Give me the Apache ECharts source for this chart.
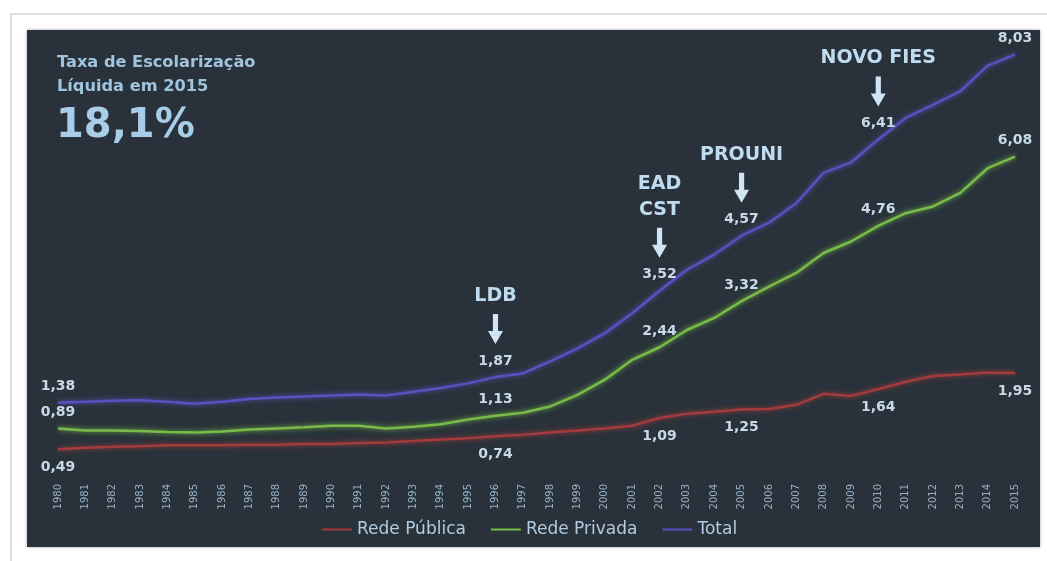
<!DOCTYPE html>
<html lang="pt-BR">
<head>
<meta charset="utf-8">
<title>Taxa de Escolarização Líquida</title>
<script src="https://cdn.jsdelivr.net/npm/echarts@6/dist/echarts.min.js"></script>
<style>
  html, body { margin: 0; padding: 0; background: #ffffff; }
  #page { position: relative; width: 1047px; height: 561px; overflow: hidden; }
  #frameTop { position: absolute; left: 10px; top: 13px; width: 1037px; height: 2px; background: #e2e2e2; }
  #frameLeft { position: absolute; left: 10px; top: 13px; width: 2px; height: 548px; background: #dedede; }
  #panel { position: absolute; left: 27px; top: 30px; width: 1013px; height: 517px; background: #29323a;
           box-shadow: 0 0 3px rgba(0,0,0,0.35); }
  #chart { position: absolute; left: 0; top: 0; width: 1047px; height: 561px; }
</style>
</head>
<body>
<div id="page">
  <div id="frameTop"></div>
  <div id="frameLeft"></div>
  <div id="panel"></div>
  <div id="chart"></div>
</div>
<script>
// Anos (eixo X)
const years = ['1980','1981','1982','1983','1984','1985','1986','1987','1988','1989',
  '1990','1991','1992','1993','1994','1995','1996','1997','1998','1999',
  '2000','2001','2002','2003','2004','2005','2006','2007','2008','2009',
  '2010','2011','2012','2013','2014','2015'];

// Matrículas (milhões)
const redePublica = [0.49,0.52,0.54,0.55,0.57,0.57,0.57,0.58,0.58,0.59,
  0.59,0.61,0.62,0.65,0.68,0.70,0.74,0.77,0.81,0.85,
  0.89,0.94,1.09,1.17,1.21,1.25,1.26,1.34,1.55,1.51,
  1.64,1.78,1.89,1.92,1.96,1.95];

const redePrivada = [0.89,0.85,0.85,0.84,0.82,0.81,0.83,0.87,0.89,0.91,
  0.94,0.94,0.89,0.92,0.97,1.06,1.13,1.19,1.31,1.53,
  1.82,2.20,2.44,2.77,3.00,3.32,3.60,3.86,4.24,4.46,
  4.76,5.00,5.13,5.39,5.86,6.08];

const total = [1.38,1.40,1.42,1.43,1.40,1.36,1.40,1.45,1.48,1.50,
  1.52,1.54,1.52,1.59,1.66,1.75,1.87,1.94,2.17,2.42,
  2.71,3.09,3.52,3.92,4.21,4.57,4.82,5.19,5.77,5.97,
  6.41,6.82,7.07,7.33,7.82,8.03];

// Anos com valor rotulado
const labeledYears = ['1980','1996','2002','2005','2010','2015'];

// Marcos da política educacional
const events = [
  { year: '1996', text: 'LDB' },
  { year: '2002', text: 'EAD\nCST' },
  { year: '2005', text: 'PROUNI' },
  { year: '2010', text: 'NOVO FIES' }
];

const FONT = 'DejaVu Sans';
const fmt = v => v.toFixed(2).replace('.', ',');

function withLabels(values) {
  return values.map((v, i) =>
    labeledYears.indexOf(years[i]) >= 0 ? { value: v, label: { show: true } } : v);
}

function lineSeries(name, values, color, labelPos, labelDist) {
  return {
    name: name,
    type: 'line',
    data: withLabels(values),
    symbol: 'circle',
    symbolSize: 0.1,
    showAllSymbol: true,
    smooth: false,
    color: color,
    lineStyle: { width: 2.5, color: color, shadowBlur: 5, shadowColor: color },
    itemStyle: { color: color },
    label: {
      show: false,
      position: labelPos,
      distance: labelDist,
      formatter: p => fmt(p.value),
      color: '#c8d9e7',
      fontFamily: FONT,
      fontWeight: 'bold',
      fontSize: 14
    },
    emphasis: { disabled: true },
    animation: false
  };
}

const chart = echarts.init(document.getElementById('chart'), null, { renderer: 'canvas' });

chart.setOption({
  backgroundColor: 'transparent',
  animation: false,
  title: [
    {
      text: 'Taxa de Escolarização\nLíquida em 2015',
      left: 57, top: 51, padding: 0,
      textStyle: { fontFamily: FONT, fontWeight: 'bold', fontSize: 16.2, lineHeight: 24, color: '#9fc4de' }
    },
    {
      text: '18,1%',
      left: 56, top: 106, padding: 0,
      textStyle: { fontFamily: FONT, fontWeight: 'bold', fontSize: 40, lineHeight: 42, color: '#a8cde8' }
    }
  ],
  legend: {
    data: ['Rede Pública', 'Rede Privada', 'Total'],
    left: 322, top: 521, padding: 0,
    icon: 'rect', itemWidth: 30, itemHeight: 2, itemGap: 25,
    textStyle: { fontFamily: FONT, fontSize: 17, color: '#b3cbe0' }
  },
  grid: { left: 58, right: 32, top: 30, bottom: 86 },
  xAxis: {
    type: 'category',
    data: years,
    boundaryGap: false,
    axisLine: { show: false },
    axisTick: { show: false },
    splitLine: { show: false },
    axisLabel: { interval: 0, rotate: 90, margin: 9, fontFamily: FONT, fontSize: 10, color: '#95b0c7' }
  },
  yAxis: {
    type: 'value', min: 0, max: 8.5, show: false,
    splitLine: { show: false }
  },
  series: [
    lineSeries('Rede Pública', redePublica, '#a23b3d', 'bottom', 11),
    lineSeries('Rede Privada', redePrivada, '#78bb48', 'top', 9),
    lineSeries('Total', total, '#5c50c0', 'top', 9)
  ]
});

// Setas e nomes dos marcos, posicionados sobre a série Total
const arrowTop = -63, arrowTip = -33, head = 13;
const graphics = [];
events.forEach(ev => {
  const i = years.indexOf(ev.year);
  const p = chart.convertToPixel({ xAxisIndex: 0, yAxisIndex: 0 }, [i, total[i]]);
  graphics.push({
    type: 'polygon', x: p[0], y: p[1], silent: true,
    shape: { points: [[-2.6, arrowTop], [2.6, arrowTop], [2.6, arrowTip - head], [7.5, arrowTip - head],
                      [0, arrowTip], [-7.5, arrowTip - head], [-2.6, arrowTip - head]] },
    style: { fill: '#cfe5f6' }
  });
  graphics.push({
    type: 'text', x: p[0], y: p[1] - 68, silent: true,
    style: {
      text: ev.text, fill: '#bfdbef',
      fontFamily: FONT, fontWeight: 'bold', fontSize: 19, lineHeight: 26,
      textAlign: 'center', textVerticalAlign: 'bottom'
    }
  });
});
chart.setOption({ graphic: graphics });
</script>
</body>
</html>
